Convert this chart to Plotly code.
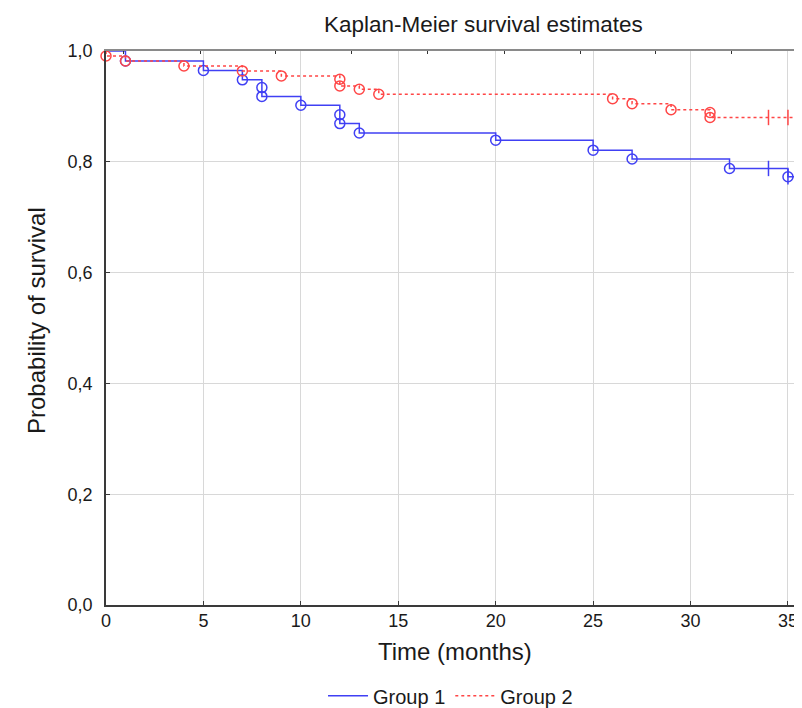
import plotly.graph_objects as go

# ---------------- data ----------------
# Group 1: event (death) times and survival after each event
g1_event_times = [1, 5, 7, 8, 8, 10, 12, 12, 13, 20, 25, 27, 32, 35]
g1_survival = [0.982, 0.965, 0.948, 0.934, 0.918, 0.902, 0.885, 0.869,
               0.852, 0.839, 0.821, 0.805, 0.788, 0.773]
g1_censor_times = [34, 35]
g1_censor_surv = [0.788, 0.773]

# Group 2
g2_event_times = [0, 1, 4, 7, 9, 12, 12, 13, 14, 26, 27, 29, 31, 31]
g2_survival = [0.991, 0.982, 0.973, 0.964, 0.955, 0.949, 0.937, 0.931,
               0.922, 0.914, 0.905, 0.894, 0.889, 0.880]
g2_censor_times = [34, 35]
g2_censor_surv = [0.880, 0.880]

start_time = 0
start_surv = 1.0
followup_end = 37

x_tickvals = [0, 5, 10, 15, 20, 25, 30, 35]
y_tickvals = [0.0, 0.2, 0.4, 0.6, 0.8, 1.0]
y_ticktext = ["0,0", "0,2", "0,4", "0,6", "0,8", "1,0"]
top_ticks = [0.92, 4.86, 8.71, 12.61, 16.52, 20.47, 24.33, 28.18, 32.11]

BLUE = "#4040f4"
RED = "#ff4646"
FONT = "Liberation Sans, Arial, sans-serif"

fig = go.Figure()


def add_group(name, times, surv, ctimes, csurv, color, dash):
    lx = [start_time] + times + [followup_end]
    ly = [start_surv] + surv + [surv[-1]]
    fig.add_trace(go.Scatter(
        x=lx, y=ly, mode="lines", name=name,
        line=dict(color=color, width=1.5, dash=dash, shape="hv"),
        hoverinfo="skip"))
    fig.add_trace(go.Scatter(
        x=times, y=surv, mode="markers", showlegend=False,
        marker=dict(symbol="circle-open", size=10, color=color,
                    line=dict(color=color, width=1.5)),
        cliponaxis=False, hoverinfo="skip"))
    fig.add_trace(go.Scatter(
        x=ctimes, y=csurv, mode="markers", showlegend=False,
        marker=dict(symbol="line-ns", size=11, color=color,
                    line=dict(color=color, width=1.5)),
        cliponaxis=False, hoverinfo="skip"))


add_group("Group 1", g1_event_times, g1_survival, g1_censor_times,
          g1_censor_surv, BLUE, "solid")
add_group("Group 2", g2_event_times, g2_survival, g2_censor_times,
          g2_censor_surv, RED, "3px,3px")

# dummy trace so the top axis is drawn
fig.add_trace(go.Scatter(x=[None], y=[None], xaxis="x2", showlegend=False,
                         hoverinfo="skip"))

x_range = [0, 35.72]

# the page body has an 8px default margin, so the figure is shrunk by 8px
fig.update_layout(
    width=794, height=700,
    margin=dict(l=98, r=0, t=43, b=103, autoexpand=False),
    paper_bgcolor="white", plot_bgcolor="white",
    font=dict(family=FONT, size=18, color="#1a1a1a"),
    showlegend=True,
    legend=dict(orientation="h", x=0.495, xanchor="center",
                y=-0.164, yanchor="middle",
                font=dict(size=20, color="#1a1a1a"),
                bgcolor="rgba(0,0,0,0)", itemwidth=40),
    xaxis=dict(range=x_range, tickvals=x_tickvals, automargin=False,
               showgrid=True, gridcolor="#d8d8d8", gridwidth=1,
               zeroline=False, showline=True, linecolor="#3a3a3a",
               linewidth=1.5, ticks="inside", ticklen=4, tickcolor="#3a3a3a",
               tickfont=dict(size=18), ticklabelstandoff=-1),
    xaxis2=dict(range=x_range, overlaying="x", side="top", automargin=False,
                tickvals=top_ticks, ticks="inside", ticklen=3,
                tickcolor="#333", showticklabels=False, showgrid=False,
                zeroline=False, showline=True, linecolor="#8a8a8a",
                linewidth=2),
    yaxis=dict(range=[0, 1.0], tickvals=y_tickvals, ticktext=y_ticktext,
               automargin=False,
               showgrid=True, gridcolor="#d8d8d8", gridwidth=1,
               zeroline=False, showline=True, linecolor="#3a3a3a",
               linewidth=1.5, ticks="inside", ticklen=4, tickcolor="#3a3a3a",
               tickfont=dict(size=18), ticklabelstandoff=8),
    annotations=[
        dict(text="Kaplan-Meier survival estimates", xref="paper",
             yref="paper", x=0.543, y=1.0487, xanchor="center",
             yanchor="middle", showarrow=False,
             font=dict(size=22.5, color="#1a1a1a")),
        dict(text="Time (months)", xref="paper", yref="paper",
             x=0.502, y=-0.0848, xanchor="center", yanchor="middle",
             showarrow=False, font=dict(size=24, color="#1a1a1a")),
        dict(text="Probability of survival", xref="paper", yref="paper",
             x=-0.1006, y=0.5144, xanchor="center", yanchor="middle",
             textangle=-90, showarrow=False,
             font=dict(size=24, color="#1a1a1a")),
    ],
)

fig.write_html("out.html")
